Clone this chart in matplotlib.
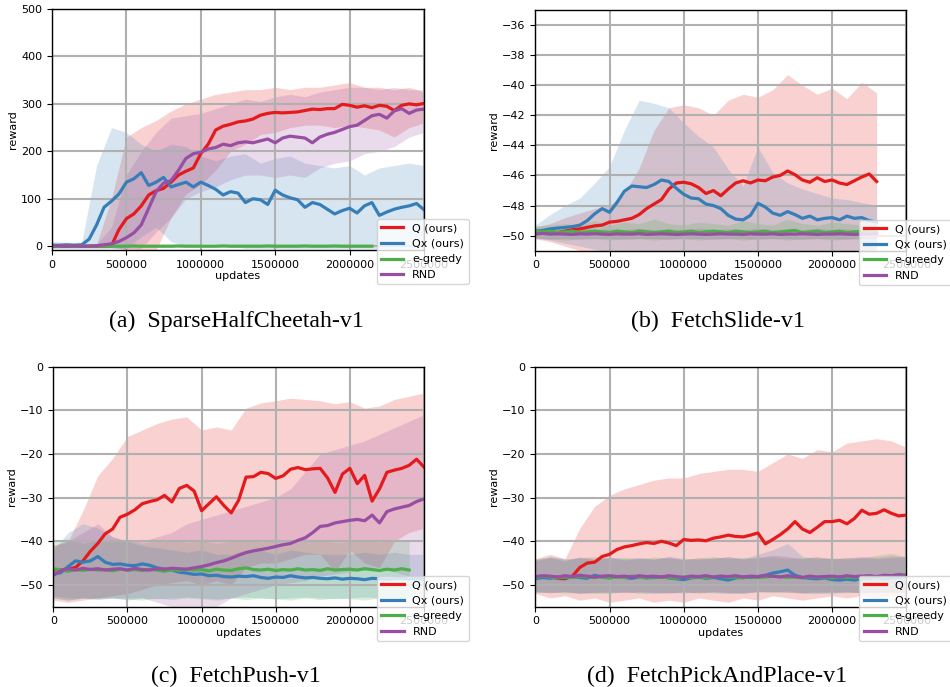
import numpy as np
import matplotlib
matplotlib.use("Agg")
import matplotlib.pyplot as plt

# colours (Set1)
C_Q, C_QX, C_EG, C_RND = "#e41a1c", "#377eb8", "#4daf4a", "#984ea3"
labels = ["Q (ours)", "Qx (ours)", "e-greedy", "RND"]

# ---------------- (a) SparseHalfCheetah-v1 : means every 50k updates
a_q = [0, 0, 0, 0, 0, 0, 0, 0, 1, 35, 58, 68, 85, 108, 117, 122, 135, 150, 158, 165,
       195, 215, 245, 253, 257, 262, 264, 268, 276, 280, 282, 281, 282, 283, 286, 289, 288, 290, 290, 299,
       297, 293, 296, 292, 297, 295, 286, 297, 300, 298, 301]
a_qx = [2, 2, 3, 2, 3, 15, 45, 82, 95, 110, 135, 142, 155, 128, 135, 145, 125, 130, 135, 125,
        135, 128, 120, 108, 115, 112, 92, 100, 98, 88, 118, 108, 102, 98, 82, 92, 88, 78, 68, 75,
        80, 70, 85, 92, 65, 72, 78, 82, 85, 90, 77]
a_eg = [0, 0, 0.5, 0, 0, 0, 0.5, 0, 0, 0, 0, 0.5, 0, 0, 0, 0, 0, 0.5, 0, 0,
        0, 0, 0, 0.5, 0, 0, 0, 0, 0, 0.5, 0, 0, 0, 0, 0.5, 0, 0, 0, 0.5, 0,
        0, 0, 0, 0]
a_rnd = [1, 1, 0, 1, 0, 0, 1, 3, 5, 10, 18, 28, 45, 80, 115, 133, 138, 160, 185, 195,
         198, 205, 208, 215, 212, 218, 220, 218, 222, 226, 218, 228, 232, 230, 228, 218, 230, 236, 240, 246,
         252, 255, 265, 275, 278, 270, 285, 290, 280, 287, 289]
# bands every 100k updates
a_q_lo = [-3, -3, -3, -3, -3, -8, -8, -8, 60, 110, 130, 160, 200, 215, 235, 240, 250, 255, 255, 250,
          255, 250, 245, 230, 250, 260]
a_q_hi = [3, 3, 3, 5, 100, 230, 250, 265, 285, 300, 310, 320, 325, 330, 330, 335, 330, 335, 335, 340,
          345, 335, 335, 330, 335, 325]
a_qx_lo = [-5, -5, -5, -5, -5, -5, 20, 40, 10, 0, 5, 5, 0, -5, -5, -5, -5, -5, -5, -5,
           -5, -5, -5, -5, -5, -5]
a_qx_hi = [10, 8, 8, 170, 250, 240, 215, 200, 215, 210, 190, 180, 190, 195, 175, 185, 190, 175, 170, 165,
           170, 150, 165, 170, 175, 170]
a_eg_lo = [-2, -2, -2, -2, -2, -2, -2, -2, -2, -2, -2, -2, -2, -2, -2, -2, -2, -2, -2, -2, -2, -2]
a_eg_hi = [2, 2, 2, 2, 2, 2, 2, 2, 2, 2, 2, 2, 2, 2, 2, 2, 2, 2, 2, 3, 2, 2]
a_rnd_lo = [-3, -3, -3, -3, -3, -5, -5, 30, 60, 100, 115, 125, 140, 150, 150, 145, 150, 145, 165, 175,
            180, 195, 200, 210, 230, 240]
a_rnd_hi = [3, 3, 3, 5, 40, 150, 200, 240, 270, 275, 280, 290, 300, 310, 305, 315, 320, 315, 325, 330,
            335, 335, 330, 335, 330, 330]

# ---------------- (b) FetchSlide-v1
b_q = [-49.85, -49.8, -49.75, -49.8, -49.7, -49.6, -49.55, -49.45, -49.35, -49.3,
       -49.1, -49.05, -48.95, -48.85, -48.6, -48.2, -47.9, -47.6, -46.9, -46.5,
       -46.45, -46.55, -46.8, -47.2, -47.0, -47.35, -46.9, -46.5, -46.35, -46.5,
       -46.3, -46.35, -46.1, -46.0, -45.7, -45.95, -46.3, -46.45, -46.15, -46.4,
       -46.3, -46.5, -46.6, -46.35, -46.1, -45.9, -46.4]
b_qx = [-49.7, -49.65, -49.55, -49.5, -49.45, -49.4, -49.3, -49.0, -48.55, -48.2,
        -48.45, -47.8, -47.05, -46.7, -46.75, -46.8, -46.6, -46.3, -46.4, -46.85,
        -47.25, -47.5, -47.55, -47.9, -48.0, -48.2, -48.65, -48.9, -48.95, -48.65,
        -47.85, -48.1, -48.5, -48.65, -48.4, -48.6, -48.85, -48.7, -48.95, -48.85,
        -48.8, -48.95, -48.7, -48.85, -48.8, -49.0, -49.1]
b_eg = [-49.7, -49.75, -49.7, -49.8, -49.75, -49.7, -49.8, -49.75, -49.7, -49.75,
        -49.8, -49.7, -49.75, -49.8, -49.7, -49.75, -49.8, -49.75, -49.7, -49.8,
        -49.75, -49.7, -49.8, -49.75, -49.7, -49.75, -49.8, -49.7, -49.75, -49.8,
        -49.75, -49.7, -49.8, -49.75, -49.7, -49.65, -49.8, -49.75, -49.7, -49.8,
        -49.75, -49.7, -49.8, -49.75, -49.7, -49.75, -49.8]
b_rnd = [-49.9, -49.85, -49.9, -49.88, -49.9, -49.92, -49.88, -49.9, -49.87, -49.9,
         -49.92, -49.88, -49.9, -49.9, -49.87, -49.92, -49.9, -49.88, -49.9, -49.92,
         -49.9, -49.88, -49.9, -49.92, -49.9, -49.88, -49.9, -49.9, -49.92, -49.88,
         -49.9, -49.9, -49.88, -49.92, -49.9, -49.9, -49.88, -49.9, -49.92, -49.9,
         -49.9, -49.88, -49.9, -49.92, -49.9, -49.9, -49.88]
b_q_lo = [-50.2, -50.4, -50.7, -51.0, -51.3, -51.5, -51.5, -51.5, -51.5, -51.5, -51.5, -51.5,
          -51.5, -51.5, -51.5, -51.5, -51.5, -51.5, -51.5, -51.5, -51.5, -51.3, -51.0, -51.0]
b_q_hi = [-49.4, -49.2, -48.8, -48.5, -48.2, -48.0, -47.2, -45.5, -43.0, -41.5, -41.3, -41.5,
          -42.0, -41.0, -40.6, -40.8, -40.3, -39.3, -40.0, -40.6, -40.2, -40.9, -39.8, -40.5]
b_qx_lo = [-50.1, -50.3, -50.5, -50.7, -50.9, -51.2, -51.5, -51.5, -51.5, -51.5, -51.5, -51.5,
           -51.5, -51.5, -51.5, -51.5, -51.5, -51.5, -51.5, -51.5, -51.5, -51.5, -51.5, -51.5]
b_qx_hi = [-49.3, -48.6, -48.0, -47.5, -46.5, -45.4, -43.0, -41.0, -41.2, -41.5, -42.5, -43.4,
           -44.1, -45.6, -46.7, -44.1, -45.8, -46.5, -46.9, -47.2, -47.5, -47.6, -47.8, -48.0]
b_eg_lo = [-50.2, -50.2, -50.3, -50.2, -50.2, -50.3, -50.2, -50.2, -50.3, -50.2, -50.2, -50.3,
           -50.2, -50.2, -50.3, -50.2, -50.2, -50.3, -50.2, -50.2, -50.3, -50.2, -50.2, -50.2]
b_eg_hi = [-49.4, -49.3, -49.2, -49.3, -49.0, -49.3, -49.1, -49.2, -48.9, -49.2, -49.3, -49.1,
           -49.2, -49.3, -49.0, -49.2, -49.3, -48.9, -49.2, -49.3, -49.1, -49.2, -49.3, -49.2]
b_rnd_lo = [-50.2, -50.25, -50.2, -50.25, -50.2, -50.2, -50.25, -50.2, -50.2, -50.25, -50.2, -50.2,
            -50.25, -50.2, -50.2, -50.25, -50.2, -50.2, -50.25, -50.2, -50.2, -50.25, -50.2, -50.2]
b_rnd_hi = [-49.6, -49.55, -49.6, -49.5, -49.6, -49.55, -49.6, -49.5, -49.6, -49.55, -49.6, -49.5,
            -49.6, -49.55, -49.6, -49.5, -49.6, -49.55, -49.6, -49.5, -49.6, -49.55, -49.6, -49.6]

# ---------------- (c) FetchPush-v1
c_q = [-46.5, -46.6, -46.4, -46.0, -44.5, -42.3, -40.5, -38.3, -37.2, -34.5,
       -33.8, -32.8, -31.4, -30.9, -30.5, -29.5, -31.0, -27.9, -27.2, -28.5,
       -33.0, -31.4, -29.8, -31.8, -33.5, -30.6, -25.3, -25.2, -24.2, -24.5,
       -25.6, -25.0, -23.5, -23.1, -23.6, -23.4, -23.3, -25.5, -28.8, -24.6,
       -23.3, -26.8, -24.9, -30.8, -28.0, -24.2, -23.7, -23.3, -22.6, -21.2, -23.0]
c_qx = [-47.5, -47.2, -45.8, -44.5, -44.8, -44.5, -43.5, -44.8, -45.3, -45.2,
        -45.5, -45.6, -45.2, -45.5, -46.1, -46.4, -46.6, -47.1, -47.3, -47.6,
        -47.5, -47.9, -47.8, -48.1, -48.2, -48.0, -48.1, -47.9, -48.3, -48.5,
        -48.2, -48.3, -47.9, -48.2, -48.4, -48.3, -48.5, -48.6, -48.4, -48.7,
        -48.5, -48.6, -48.8, -48.5, -48.6, -48.7, -48.6, -48.5, -48.7, -48.6, -48.7]
c_eg = [-46.3, -46.6, -46.9, -46.5, -46.7, -46.4, -46.6, -46.5, -46.8, -46.4,
        -46.6, -46.5, -46.7, -46.4, -46.6, -46.9, -46.5, -46.7, -46.4, -46.6,
        -46.5, -46.8, -46.4, -46.6, -46.7, -46.3, -46.1, -46.5, -46.6, -46.4,
        -46.7, -46.5, -46.6, -46.3, -46.6, -46.5, -46.7, -46.3, -46.6, -46.5,
        -46.4, -46.6, -46.3, -46.5, -46.7, -46.4, -46.6, -46.3, -46.6]
c_rnd = [-47.8, -46.8, -46.3, -46.6, -46.2, -46.5, -46.3, -46.6, -46.4, -46.3,
         -46.6, -46.2, -46.5, -46.6, -46.3, -46.4, -46.2, -46.3, -46.4, -46.1,
         -45.8, -45.4, -44.9, -44.5, -43.9, -43.2, -42.6, -42.2, -41.9, -41.6,
         -41.2, -40.8, -40.5, -39.8, -39.2, -38.0, -36.6, -36.4, -35.8, -35.5,
         -35.2, -35.0, -35.3, -34.0, -35.8, -33.2, -32.6, -32.2, -31.8, -30.9, -30.3]
c_q_lo = [-53.5, -54, -53.5, -53, -52.5, -52, -51, -50, -49.5, -49, -50, -49, -50,
          -46, -45, -45, -44, -43, -43, -47, -42, -45, -46, -40, -38, -37]
c_q_hi = [-41, -40, -33, -25, -21, -16, -14.5, -13, -12, -11.5, -14.5, -13.8, -14.5,
          -9.5, -8.3, -7.8, -7.2, -7.5, -7.8, -8.5, -8.0, -9.5, -9.0, -7.5, -6.8, -6.0]
c_qx_lo = [-53, -53.5, -53, -53.2, -53, -53.5, -53, -53.2, -53, -52.8, -53, -53.2, -53,
           -52.8, -53, -53.2, -53, -52.8, -53, -53.2, -53, -52.8, -53, -53.2, -53, -53]
c_qx_hi = [-42, -38, -36, -37, -39, -40, -41, -41.5, -42, -42.5, -42, -43, -43,
           -42, -42, -43, -42, -42.5, -43, -43, -43, -42.5, -43, -42.5, -43, -43]
c_eg_lo = [-53, -53.5, -53, -53.4, -53, -53.2, -53.5, -53, -53.4, -53, -53.2, -53.5, -53,
           -53.4, -53, -53.2, -53.5, -53, -53.4, -53, -53.2, -53.5, -53, -53.4, -53]
c_eg_hi = [-40, -39.5, -40.5, -39.8, -40.2, -39.6, -40.4, -40, -39.7, -40.3, -39.9, -40.5, -40,
           -39.6, -40.2, -39.8, -40.4, -40, -39.7, -40.3, -40.1, -39.6, -40.2, -39.9, -40]
c_rnd_lo = [-52.5, -53, -53, -53, -53, -53, -53, -54, -55, -55, -55.5, -55, -53,
            -52, -51, -50, -49.5, -49, -48, -47.5, -47, -46.5, -46, -47, -48, -49]
c_rnd_hi = [-41, -40, -38, -36, -39, -40, -40, -39, -38, -36, -35, -34, -33,
            -32, -31, -30, -28, -24, -20, -19, -18, -17, -15.5, -14, -12.5, -11]

# ---------------- (d) FetchPickAndPlace-v1
d_q = [-48.2, -48.3, -48.1, -48.5, -48.6, -48.0, -46.0, -45.0, -44.8, -43.5,
       -43.0, -41.9, -41.3, -41.0, -40.6, -40.3, -40.5, -40.0, -40.4, -41.0,
       -39.6, -39.8, -39.7, -39.9, -39.3, -39.0, -38.6, -38.9, -39.0, -38.6,
       -38.1, -40.6, -39.6, -38.5, -37.2, -35.5, -37.2, -38.0, -36.8, -35.5,
       -35.5, -35.2, -36.0, -34.8, -32.9, -33.8, -33.6, -32.8, -33.6, -34.2, -34.0]
d_qx = [-48.6, -48.3, -48.5, -48.2, -48.4, -48.1, -48.3, -48.5, -47.8, -48.2,
        -48.4, -48.1, -48.3, -48.5, -48.2, -48.4, -48.3, -48.1, -48.4, -48.6,
        -48.8, -48.4, -48.2, -48.5, -48.3, -48.6, -48.9, -48.4, -48.2, -48.3,
        -48.1, -47.8, -47.3, -47.0, -46.6, -47.8, -48.3, -48.5, -48.6, -48.4,
        -48.8, -48.9, -48.7, -48.9, -48.6, -48.5, -48.3, -48.6, -48.4, -48.3, -48.1]
d_eg = [-48.3, -48.0, -48.2, -48.4, -48.1, -48.3, -48.0, -48.2, -48.3, -48.1,
        -48.4, -48.2, -48.3, -48.0, -48.2, -48.4, -48.1, -48.3, -48.2, -48.5,
        -48.2, -48.3, -48.1, -48.4, -48.2, -48.0, -48.3, -48.2, -48.4, -48.1,
        -48.3, -48.2, -48.0, -48.1, -48.3, -48.2, -48.4, -48.1, -48.3, -48.2,
        -48.4, -48.1, -48.3, -48.2, -48.4, -48.0, -48.2, -48.1, -47.9, -47.6, -47.8]
d_rnd = [-48.1, -47.9, -48.0, -48.2, -47.9, -48.1, -47.8, -48.0, -48.2, -48.0,
         -47.9, -48.1, -48.0, -48.2, -47.9, -48.1, -48.0, -48.2, -47.9, -48.1,
         -48.3, -48.0, -48.1, -47.9, -48.2, -48.0, -48.1, -47.9, -48.2, -48.0,
         -48.1, -47.9, -48.0, -48.2, -47.9, -48.1, -48.3, -48.0, -48.2, -48.1,
         -48.0, -48.2, -47.9, -48.1, -48.0, -47.9, -48.1, -47.8, -47.9, -47.7, -47.9]
d_q_lo = [-52, -53, -52.5, -53.5, -53, -54, -53.5, -53, -54, -53.5, -54, -53, -53.5,
          -54, -53, -53.5, -52.5, -53, -53.5, -53, -52.5, -53, -52.5, -53, -52.5, -53]
d_q_hi = [-44, -43, -44, -37, -32, -29.5, -28, -27, -26, -25.5, -25.5, -24.5, -24,
          -23.5, -23.5, -24, -22, -20, -21, -19, -19.5, -17.5, -17, -16.5, -17, -18.5]
d_qx_lo = [-51.5, -51.8, -51.6, -52, -51.7, -51.9, -51.6, -51.8, -52, -51.7, -51.9, -51.6, -51.8,
           -52, -51.7, -51.5, -51.6, -51.4, -51.8, -52, -51.9, -51.7, -51.8, -51.6, -51.9, -51.7]
d_qx_hi = [-44.5, -43.5, -44, -43.8, -44.2, -43.6, -44, -43.7, -44.1, -43.5, -43.9, -44.2, -43.8,
           -43.6, -44, -43, -42, -40.5, -43.5, -44, -43.8, -44.1, -43.7, -44, -43.8, -43.5]
d_eg_lo = [-51.8, -51.6, -51.9, -51.7, -52, -51.8, -51.6, -51.9, -51.7, -51.8, -51.6, -51.9, -51.7,
           -51.8, -52, -51.6, -51.8, -51.7, -51.9, -51.8, -51.6, -51.8, -51.7, -51.9, -51.6, -51.8]
d_eg_hi = [-44, -43.6, -44.2, -43.8, -43.5, -44, -43.7, -44.1, -43.6, -43.9, -44.2, -43.8, -43.5,
           -44, -43.7, -43.8, -43.6, -44, -43.8, -43.5, -44, -43.7, -43.9, -43.2, -42.8, -43.5]
d_rnd_lo = [-51.6, -51.8, -51.5, -51.9, -51.7, -51.6, -51.8, -51.5, -51.7, -51.9, -51.6, -51.8, -51.5,
            -51.7, -51.9, -51.6, -51.5, -51.7, -51.8, -51.6, -51.7, -51.5, -51.8, -51.6, -51.7, -51.6]
d_rnd_hi = [-44.2, -43.8, -44.5, -43.6, -44, -43.7, -44.3, -43.9, -44.1, -43.6, -44.2, -43.8, -44,
            -43.5, -44.1, -43.7, -43.2, -43.5, -44, -43.6, -44.1, -43.8, -43.5, -43.7, -43.3, -43.6]

panels = [
    dict(pos=[0.0547, 0.6361, 0.3916, 0.3508], ylim=(-8, 500), xlim=(0, 2.5e6),
         yticks=np.arange(0, 501, 100), caption="(a)  SparseHalfCheetah-v1", cap=(0.2484, 0.524),
         series=[(a_q, a_q_lo, a_q_hi, C_Q), (a_qx, a_qx_lo, a_qx_hi, C_QX),
                 (a_eg, a_eg_lo, a_eg_hi, C_EG), (a_rnd, a_rnd_lo, a_rnd_hi, C_RND)]),
    dict(pos=[0.5635, 0.6351, 0.3905, 0.3503], ylim=(-51, -35), xlim=(0, 2.3e6),
         yticks=np.arange(-50, -35, 2), caption="(b)  FetchSlide-v1", cap=(0.7553, 0.524),
         series=[(b_q, b_q_lo, b_q_hi, C_Q), (b_qx, b_qx_lo, b_qx_hi, C_QX),
                 (b_eg, b_eg_lo, b_eg_hi, C_EG), (b_rnd, b_rnd_lo, b_rnd_hi, C_RND)]),
    dict(pos=[0.0561, 0.1169, 0.3902, 0.3493], ylim=(-55, 0), xlim=(0, 2.5e6),
         yticks=np.arange(-50, 1, 10), caption="(c)  FetchPush-v1", cap=(0.2484, 0.0068),
         series=[(c_q, c_q_lo, c_q_hi, C_Q), (c_qx, c_qx_lo, c_qx_hi, C_QX),
                 (c_eg, c_eg_lo, c_eg_hi, C_EG), (c_rnd, c_rnd_lo, c_rnd_hi, C_RND)]),
    dict(pos=[0.5635, 0.1169, 0.3905, 0.3493], ylim=(-55, 0), xlim=(0, 2.5e6),
         yticks=np.arange(-50, 1, 10), caption="(d)  FetchPickAndPlace-v1", cap=(0.7553, 0.0068),
         series=[(d_q, d_q_lo, d_q_hi, C_Q), (d_qx, d_qx_lo, d_qx_hi, C_QX),
                 (d_eg, d_eg_lo, d_eg_hi, C_EG), (d_rnd, d_rnd_lo, d_rnd_hi, C_RND)]),
]

fig = plt.figure(figsize=(9.5, 6.87), dpi=100)

for p in panels:
    ax = fig.add_axes(p["pos"])
    for (mean, lo, hi, col), lab in zip(p["series"], labels):
        xb = np.arange(len(lo)) * 100000
        ax.fill_between(xb, lo, hi, color=col, alpha=0.2, linewidth=0)
    for (mean, lo, hi, col), lab in zip(p["series"], labels):
        xm = np.arange(len(mean)) * 50000
        ax.plot(xm, mean, color=col, lw=2.3, label=lab)
    ax.set_xlim(*p["xlim"])
    ax.set_ylim(*p["ylim"])
    ax.set_yticks(p["yticks"])
    ax.set_xticks(np.arange(0, 2500001, 500000))
    ax.ticklabel_format(axis="x", style="plain", useOffset=False)
    ax.grid(True, color="#b0b0b0", lw=1.5)
    ax.tick_params(labelsize=8, length=3.5, width=0.8)
    for s in ax.spines.values():
        s.set_linewidth(1.0)
    ax.set_xlabel("updates", fontsize=8, labelpad=1)
    ax.set_ylabel("reward", fontsize=8, labelpad=2)
    ax.legend(loc="upper left", bbox_to_anchor=(0.873, 0.129), borderaxespad=0,
              fontsize=8, framealpha=0.8)
    fig.text(p["cap"][0], p["cap"][1], p["caption"], ha="center", va="baseline",
             family="Liberation Serif", fontsize=17.2)

fig.savefig("out.png", dpi=100)
